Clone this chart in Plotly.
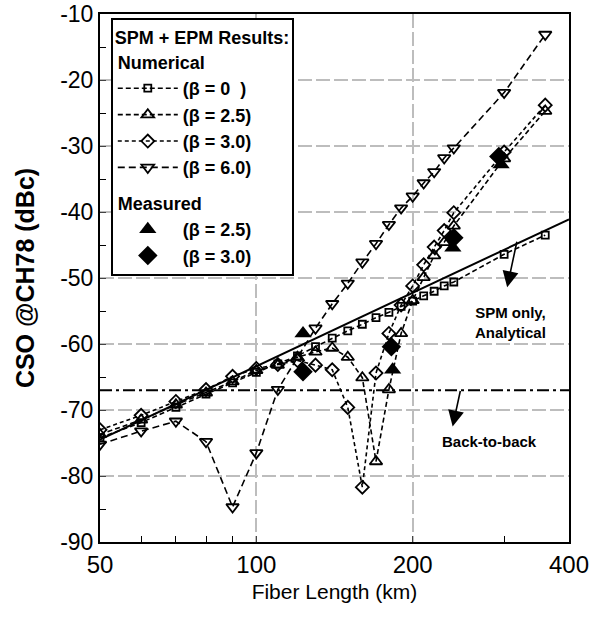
import plotly.graph_objects as go

# fiber length (km) for the numerical runs
length = [50, 60, 70, 80, 90, 100, 110, 120, 130, 140, 150, 160, 170, 180, 190, 200,
          210, 220, 230, 240, 300, 360]

beta_0 = [-74.2, -71.9, -69.6, -67.6, -65.9, -64.3, -63.0, -61.8, -60.4, -59.1, -58.0, -57.0,
          -56.0, -55.2, -54.3, -53.5, -52.7, -52.0, -51.2, -50.6, -46.4, -43.5]
beta_25 = [-73.7, -71.5, -69.2, -67.4, -65.7, -64.0, -63.2, -62.0, -61.2, -60.6, -62.0, -65.1,
           -77.8, -66.9, -58.4, -53.4, -49.9, -46.6, -44.6, -42.1, -31.9, -24.7]
beta_30 = [-73.0, -70.8, -68.7, -66.9, -64.9, -63.7, -63.1, -62.5, -63.2, -63.9, -69.6, -81.7,
           -64.4, -58.4, -54.1, -51.2, -48.0, -45.3, -42.8, -40.1, -30.9, -23.8]

length_6 = [50, 60, 70, 80, 90, 100, 110, 130, 140, 150, 160, 170, 180, 190, 200,
            210, 220, 230, 240, 300, 360]
beta_60 = [-75.2, -73.2, -71.7, -74.8, -84.7, -76.5, -66.9, -57.6, -53.9, -50.8, -47.6, -44.8,
           -41.9, -39.4, -37.6, -35.6, -33.9, -31.8, -30.3, -21.9, -13.1]

# measured points
meas_len_25 = [123, 183, 239, 296]
meas_25 = [-58.4, -63.9, -45.4, -32.8]
meas_len_30 = [123, 182, 240, 293]
meas_30 = [-64.2, -60.4, -43.9, -31.6]

# SPM only analytical line and back-to-back level
spm_len = [50, 400]
spm_cso = [-74.5, -41.1]
b2b_len = [50, 400]
b2b_cso = [-67.0, -67.0]

x_ticks = [50, 100, 200, 400]
y_ticks = [-90, -80, -70, -60, -50, -40, -30, -20, -10]

fig = go.Figure()

dash = "5px,3px"
fig.add_trace(go.Scatter(x=spm_len, y=spm_cso, mode="lines", line=dict(color="black", width=2),
                         showlegend=False))
fig.add_trace(go.Scatter(x=b2b_len, y=b2b_cso, mode="lines",
                         line=dict(color="black", width=2, dash="12px,4px,3px,4px"), showlegend=False))

fig.add_trace(go.Scatter(x=length, y=beta_0, mode="lines+markers", name="<b>(β = 0  )</b>",
                         legendgroup="num", legendgrouptitle_text="<b>Numerical</b>",
                         line=dict(color="black", width=1.6, dash=dash),
                         marker=dict(symbol="square-open", size=7, color="black", line=dict(width=1.8))))
fig.add_trace(go.Scatter(x=length, y=beta_25, mode="lines+markers", name="<b>(β = 2.5)</b>",
                         legendgroup="num",
                         line=dict(color="black", width=1.6, dash=dash),
                         marker=dict(symbol="triangle-up-open", size=11, color="black", line=dict(width=1.8))))
fig.add_trace(go.Scatter(x=length, y=beta_30, mode="lines+markers", name="<b>(β = 3.0)</b>",
                         legendgroup="num",
                         line=dict(color="black", width=1.6, dash="4px,3px"),
                         marker=dict(symbol="diamond-open", size=10, color="black", line=dict(width=1.8))))
fig.add_trace(go.Scatter(x=length_6, y=beta_60, mode="lines+markers", name="<b>(β = 6.0)</b>",
                         legendgroup="num",
                         line=dict(color="black", width=1.6, dash="7px,4px"),
                         marker=dict(symbol="triangle-down-open", size=11, color="black", line=dict(width=1.8))))

fig.add_trace(go.Scatter(x=meas_len_25, y=meas_25, mode="markers", name="<b>(β = 2.5)</b>",
                         legendgroup="meas", legendgrouptitle_text="<b>Measured</b>",
                         marker=dict(symbol="triangle-up", size=15, color="black")))
fig.add_trace(go.Scatter(x=meas_len_30, y=meas_30, mode="markers", name="<b>(β = 3.0)</b>",
                         legendgroup="meas",
                         marker=dict(symbol="diamond", size=15, color="black")))

# labels with arrows
fig.add_annotation(x=2.483, y=-51.4, ax=10, ay=-47, xref="x", yref="y", text="",
                   showarrow=True, arrowhead=2, arrowsize=2.0, arrowwidth=1.6, arrowcolor="black")
fig.add_annotation(x=2.489, y=-56.8, xref="x", yref="y", text="<b>SPM only,<br>Analytical</b>",
                   showarrow=False, font=dict(size=15, color="black", family="Liberation Sans"))
fig.add_annotation(x=2.378, y=-72.5, ax=8, ay=-37, xref="x", yref="y", text="",
                   showarrow=True, arrowhead=2, arrowsize=2.0, arrowwidth=1.6, arrowcolor="black")
fig.add_annotation(x=2.449, y=-74.7, xref="x", yref="y", text="<b>Back-to-back</b>",
                   showarrow=False, font=dict(size=15, color="black", family="Liberation Sans"))

grid = dict(showgrid=True, gridcolor="#bdbdbd", gridwidth=2, griddash="14px,4px")

fig.update_xaxes(type="log", range=[1.69897, 2.60206], tickvals=x_ticks,
                 ticktext=[str(v) for v in x_ticks], ticks="inside", ticklen=6,
                 showline=True, linecolor="black", linewidth=2, mirror=True, zeroline=False,
                 automargin=False, ticklabeloverflow="allow",
                 tickfont=dict(size=24, color="black"),
                 title=dict(text="Fiber Length (km)", font=dict(size=21, color="black"),
                            standoff=8),
                 minor=dict(tickvals=[60, 70, 80, 90, 300], ticks="inside", ticklen=6,
                            showgrid=False, tickcolor="black"),
                 **grid)
fig.update_yaxes(range=[-90, -9.99], tickvals=y_ticks, ticktext=[str(v) for v in y_ticks],
                 ticks="inside", ticklen=6, showline=True, linecolor="black", linewidth=2,
                 mirror=True, zeroline=False, automargin=False, ticklabeloverflow="allow",
                 tickfont=dict(size=23, color="black"),
                 title=dict(text="<b>CSO @CH78 (dBc)</b>", font=dict(size=25, color="black"),
                            standoff=18),
                 minor=dict(dtick=5, ticks="inside", ticklen=6, showgrid=False, tickcolor="black"),
                 **grid)

fig.update_layout(
    width=605, height=620,
    margin=dict(l=100, r=36, t=14, b=78),
    plot_bgcolor="white", paper_bgcolor="white",
    font=dict(family="Liberation Sans", color="black"),
    legend=dict(x=0.023, y=0.992, xanchor="left", yanchor="top", bgcolor="white",
                bordercolor="black", borderwidth=2, tracegroupgap=9, itemwidth=60,
                font=dict(size=18, color="black"),
                grouptitlefont=dict(size=18, color="black"),
                title=dict(text="<b>SPM + EPM Results:</b>", font=dict(size=18))),
)

fig.write_html("out.html", config={"displayModeBar": False},
               post_script="document.body.style.margin='0';")
